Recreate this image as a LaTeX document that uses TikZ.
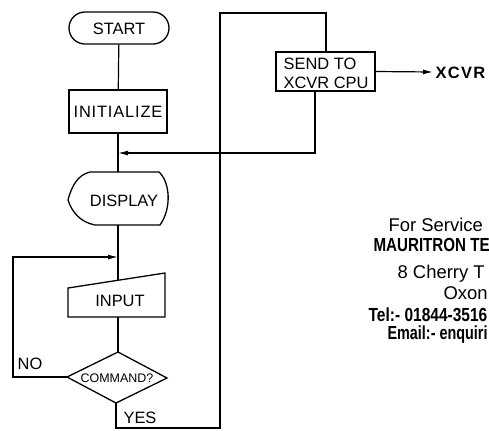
\documentclass[tikz,border=0pt]{standalone}
\usepackage{fontspec}
\usepackage{graphicx}
\setmainfont{Liberation Sans}
\usetikzlibrary{arrows.meta}
\begin{document}
\begin{tikzpicture}[x=1bp,y=-1bp,line width=1.2bp,
  lbl/.style={inner sep=0pt,font=\fontsize{16.5}{18}\selectfont,text height=12bp,text depth=0pt},
  small/.style={inner sep=0pt,font=\fontsize{12.5}{14}\selectfont,text height=9bp,text depth=0pt},
  box/.style={draw,lbl,line width=1.3bp},
  outline/.style={line width=1.3bp},
  arr/.style={-{Latex[length=10bp,width=5bp]}},
  wm/.style={inner sep=0pt,anchor=west,font=\fontsize{18.5}{20}\selectfont,text height=13bp,text depth=0pt},
  wmb/.style={wm,font=\fontsize{19}{20}\selectfont\bfseries}]
\useasboundingbox (0,0) rectangle (489,430);

% nodes
\node[box,rounded corners=16bp,minimum width=100bp,minimum height=32bp] (start) at (119,28) {START};
\node[box,minimum width=98bp,minimum height=43bp] (init) at (118,111.5) {\addfontfeature{LetterSpace=5}INITIALIZE};
\node[lbl] (disp) at (124,200) {DISPLAY};
\node[lbl] (inp) at (120,300) {INPUT};
\node[small] (cmd) at (117,377.5) {COMMAND?};
\node[draw,line width=1.3bp,minimum width=99bp,minimum height=39bp] (send) at (325.5,71.5) {};
\node[lbl,anchor=west] (sendA) at (283,63) {SEND TO};
\node[lbl,anchor=west] (sendB) at (283,82) {XCVR CPU};
\node[lbl,anchor=west,inner xsep=2bp,font=\fontsize{16.5}{18}\selectfont\bfseries] (xcvr) at (433,72) {\addfontfeature{LetterSpace=8}XCVR};
\node[lbl] (no) at (30,363) {NO};
\node[lbl] (yes) at (140,417) {YES};

% shape outlines
\coordinate (dtop) at (118,172);
\coordinate (dbot) at (118,225);
\draw[outline] (68,200) .. controls (72,185) and (78,175) .. (90,172) -- (159,172)
  .. controls (170,182) and (172,208) .. (160,225) -- (95,225)
  .. controls (80,222) and (72,212) .. (68,200) -- cycle;
\coordinate (itop) at (118,280.3);
\coordinate (ibot) at (118,317);
\draw[outline] (68,288) -- (165,273) -- (165,317) -- (68,317) -- cycle;
\coordinate (ct) at (118,352);
\coordinate (cl) at (67,377);
\coordinate (cr) at (167,378);
\coordinate (cb) at (116,403);
\draw[outline] (ct) -- (cr) -- (cb) -- (cl) -- cycle;

% connectors
\coordinate (j1) at (118,153);
\coordinate (j2) at (118,257);
\coordinate (c1) at (116,428);
\coordinate (c2) at (220,428);
\coordinate (c3) at (220,13);
\coordinate (c4) at (326,13);
\coordinate (c5) at (315,153);
\coordinate (c6) at (13,377);
\coordinate (c7) at (13,257);
\draw (start) -- (init);
\draw (init) -- (dtop);
\draw (dbot) -- (itop);
\draw (ibot) -- (ct);
\draw (cb) -- (c1) -- (c2) -- (c3) -- (c4) -- (c4 |- send.north);
\draw[arr] (c5 |- send.south) -- (c5) -- (j1);
\draw[arr] (cl) -- (c6) -- (c7) -- (j2);
\draw[arr] (send.east) -- (xcvr.west);

% watermark
\begin{scope}
\clip (0,0) rectangle (489,430);
\node[wm] (w1) at (388,225) {For Service};
\node[wmb] (w2) at (373,245) {\scalebox{0.8}[1]{MAURITRON TE}};
\node[wm] (w3) at (397,272) {8 Cherry T};
\node[wm] (w4) at (443,293) {Oxon};
\node[wmb] (w5) at (368,315) {\scalebox{0.82}[1]{Tel:- 01844-3516}};
\node[wmb] (w6) at (387,333) {\scalebox{0.76}[1]{Email:- enquiri}};
\end{scope}
\end{tikzpicture}
\end{document}
